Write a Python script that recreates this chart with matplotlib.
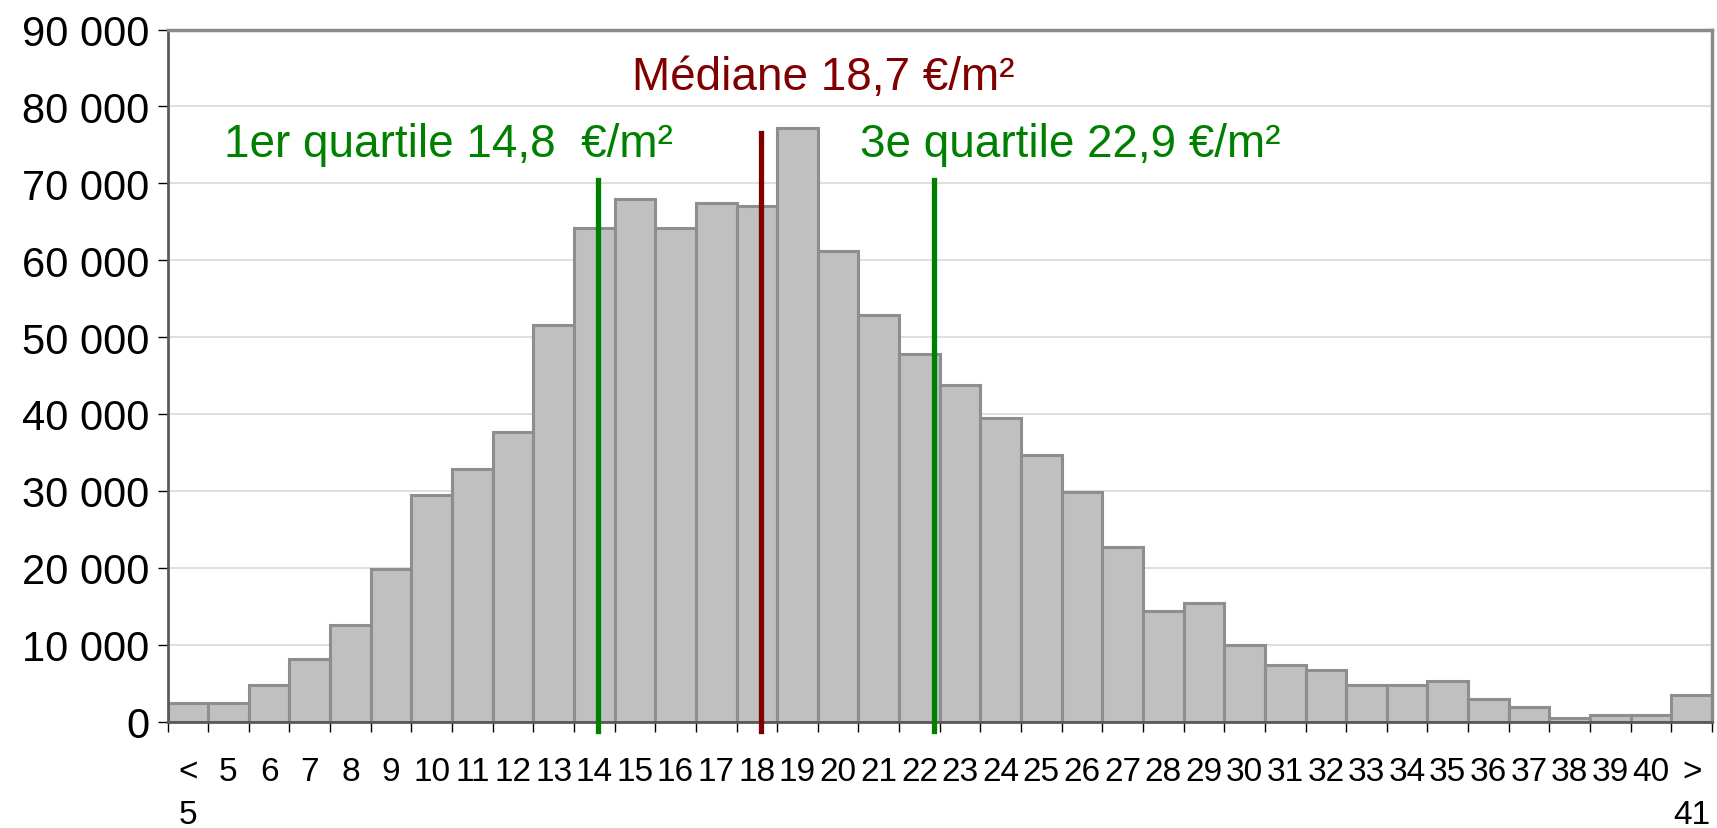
import numpy as np
import matplotlib.pyplot as plt
from matplotlib.ticker import FuncFormatter, FixedLocator

plt.rcParams['font.family'] = ['Liberation Sans', 'DejaVu Sans']

# Classes de loyer (€/m²) et nombre de logements
labels = ['<\n5'] + [str(v) for v in range(5, 41)] + ['>\n41']
counts = [2400, 2400, 4700, 8100, 12500, 19800, 29400, 32800, 37700, 51600,
          64200, 67900, 64200, 67500, 67000, 77200, 61200, 52900, 47800, 43800,
          39500, 34700, 29800, 22700, 14400, 15400, 10000, 7300, 6700, 4700,
          4700, 5300, 2900, 1900, 400, 900, 900, 3400]

# Repères (position sur l'axe des classes, hauteur du trait)
q1_pos, q1_top = 10.58, 70400
med_pos, med_top = 14.60, 76600
q3_pos, q3_top = 18.86, 70400
q1_text = '1er quartile 14,8  €/m²'
med_text = 'Médiane 18,7 €/m²'
q3_text = '3e quartile 22,9 €/m²'

fig = plt.figure(figsize=(17.17, 8.29), dpi=100)
ax = fig.add_axes([167.5 / 1717, 1 - 722.5 / 829, (1712 - 167.5) / 1717, (722.5 - 30.5) / 829])

x = np.arange(len(counts))
ax.bar(x, counts, width=1, align='edge', color='#c0c0c0', edgecolor='#8e8e8e',
       linewidth=2.2, zorder=2)

ax.set_xlim(0, len(counts))
ax.set_ylim(0, 90000)
ax.set_yticks(np.arange(0, 90001, 10000))
ax.yaxis.set_major_formatter(FuncFormatter(lambda v, p: f'{v:,.0f}'.replace(',', ' ')))
ax.grid(axis='y', color='#d9d9d9', linewidth=1.2, zorder=0)

# ticks aux bords des classes, libellés au centre
ax.xaxis.set_minor_locator(FixedLocator(np.arange(len(counts) + 1)))
ax.set_xticks(x + 0.5)
ax.set_xticklabels(labels, fontsize=24, linespacing=1.48, va='top')
ax.tick_params(axis='x', which='major', length=0, pad=25)
ax.tick_params(axis='x', which='minor', length=7, width=1, direction='out', color='black')
ax.tick_params(axis='y', labelsize=30, length=7, width=1, direction='out', pad=6)

for s in ['top', 'right']:
    ax.spines[s].set_color('#8a8a8a')
    ax.spines[s].set_linewidth(2.5)
for s in ['left', 'bottom']:
    ax.spines[s].set_color('#5a5a5a')
    ax.spines[s].set_linewidth(2)

ax.plot([q1_pos, q1_pos], [-1300, q1_top], color='#008000', linewidth=3.8, clip_on=False, zorder=3)
ax.plot([med_pos, med_pos], [-1300, med_top], color='#800000', linewidth=3.8, clip_on=False, zorder=3)
ax.plot([q3_pos, q3_pos], [-1300, q3_top], color='#008000', linewidth=3.8, clip_on=False, zorder=3)

ax.text(1.4, 73600, q1_text, color='#008000', fontsize=33, ha='left', va='baseline')
ax.text(11.43, 82300, med_text, color='#800000', fontsize=33, ha='left', va='baseline')
ax.text(17.03, 73600, q3_text, color='#008000', fontsize=33, ha='left', va='baseline')

fig.savefig('out.png', dpi=100)
